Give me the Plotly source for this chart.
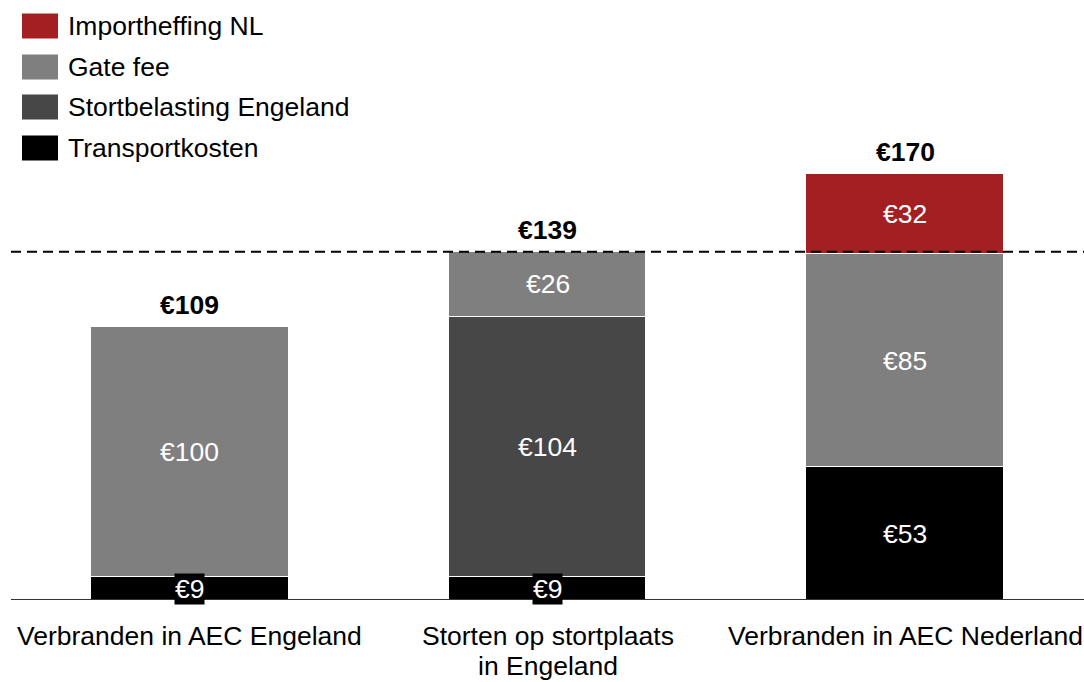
import plotly.graph_objects as go

categories = ["Verbranden in AEC Engeland", "Storten op stortplaats<br>in Engeland", "Verbranden in AEC Nederland"]
series_names = ["Transportkosten", "Stortbelasting Engeland", "Gate fee", "Importheffing NL"]
transport = [9, 9, 53]
stortbelasting = [0, 104, 0]
gate_fee = [100, 26, 85]
importheffing = [0, 0, 32]
colors = ["#000000", "#474747", "#7f7f7f", "#a31f22"]
reference_line = 139

series = [transport, stortbelasting, gate_fee, importheffing]
totals = [sum(s[i] for s in series) for i in range(len(categories))]

W, H = 1084, 682
ml, mr, mt, mb = 11, 0, 99, 82
pw, ph = W - ml - mr, H - mt - mb
FONT = "Liberation Sans, Arial, sans-serif"
FS = 26.5

def px2paper_x(px):
    return (px - ml) / pw

def px2paper_y(py):
    return (H - mb - py) / ph

fig = go.Figure()
xs = list(range(len(categories)))
for name, vals, col in zip(series_names, series, colors):
    fig.add_trace(go.Bar(
        x=xs, y=vals, name=name, marker=dict(color=col, line=dict(color="white", width=1.5)),
        width=0.553, showlegend=False, hoverinfo="y+name"))

annotations = []
# segment labels
for i in xs:
    base = 0
    for vals, col in zip(series, colors):
        v = vals[i]
        if v > 0:
            annotations.append(dict(
                x=i, y=base + v / 2, xref="x", yref="y", text=f"€{v}", showarrow=False,
                font=dict(family=FONT, size=FS, color="white"), bgcolor=col, borderpad=0,
                xanchor="center", yanchor="middle"))
        base += v
    annotations.append(dict(
        x=i, y=totals[i], xref="x", yref="y", text=f"<b>€{totals[i]}</b>", showarrow=False,
        font=dict(family=FONT, size=FS, color="black"), yanchor="bottom", yshift=5))

# category labels (one annotation per line for tighter line spacing)
for i, c in enumerate(categories):
    for k, line in enumerate(c.split("<br>")):
        annotations.append(dict(
            x=i, y=0, xref="x", yref="y", text=line, showarrow=False, yanchor="top",
            yshift=-19 - 30 * k, font=dict(family=FONT, size=FS, color="black"), align="center"))

shapes = []
# legend (custom), top to bottom
legend_rows = list(zip(series_names, colors))[::-1]
row_centers = [26, 67, 107, 148]
for (name, col), cy in zip(legend_rows, row_centers):
    shapes.append(dict(type="rect", xref="paper", yref="paper",
                       x0=px2paper_x(22), x1=px2paper_x(58),
                       y0=px2paper_y(cy + 12.5), y1=px2paper_y(cy - 12.5),
                       fillcolor=col, line=dict(width=0)))
    annotations.append(dict(x=px2paper_x(66), y=px2paper_y(cy), xref="paper", yref="paper",
                            text=name, showarrow=False, xanchor="left", yanchor="middle",
                            font=dict(family=FONT, size=FS, color="black")))

# reference dashed line
shapes.append(dict(type="line", xref="paper", yref="y", x0=0, x1=1, y0=reference_line, y1=reference_line,
                   line=dict(color="black", width=2, dash="10px,6px"), layer="above"))
# baseline
shapes.append(dict(type="line", xref="paper", yref="y", x0=0, x1=1, y0=0, y1=0,
                   line=dict(color="#333333", width=2), layer="above"))

fig.update_layout(
    barmode="stack", width=W, height=H,
    margin=dict(l=ml, r=mr, t=mt, b=mb),
    plot_bgcolor="white", paper_bgcolor="white",
    xaxis=dict(range=[-0.5, 2.5], showticklabels=False, showgrid=False, zeroline=False, showline=False),
    yaxis=dict(range=[0, 200], showticklabels=False, showgrid=False, zeroline=False, showline=False),
    annotations=annotations, shapes=shapes, bargap=0,
)
fig.write_html("out.html", config={"displayModeBar": False},
               post_script="document.body.style.margin='0px';document.body.style.overflow='hidden';")
